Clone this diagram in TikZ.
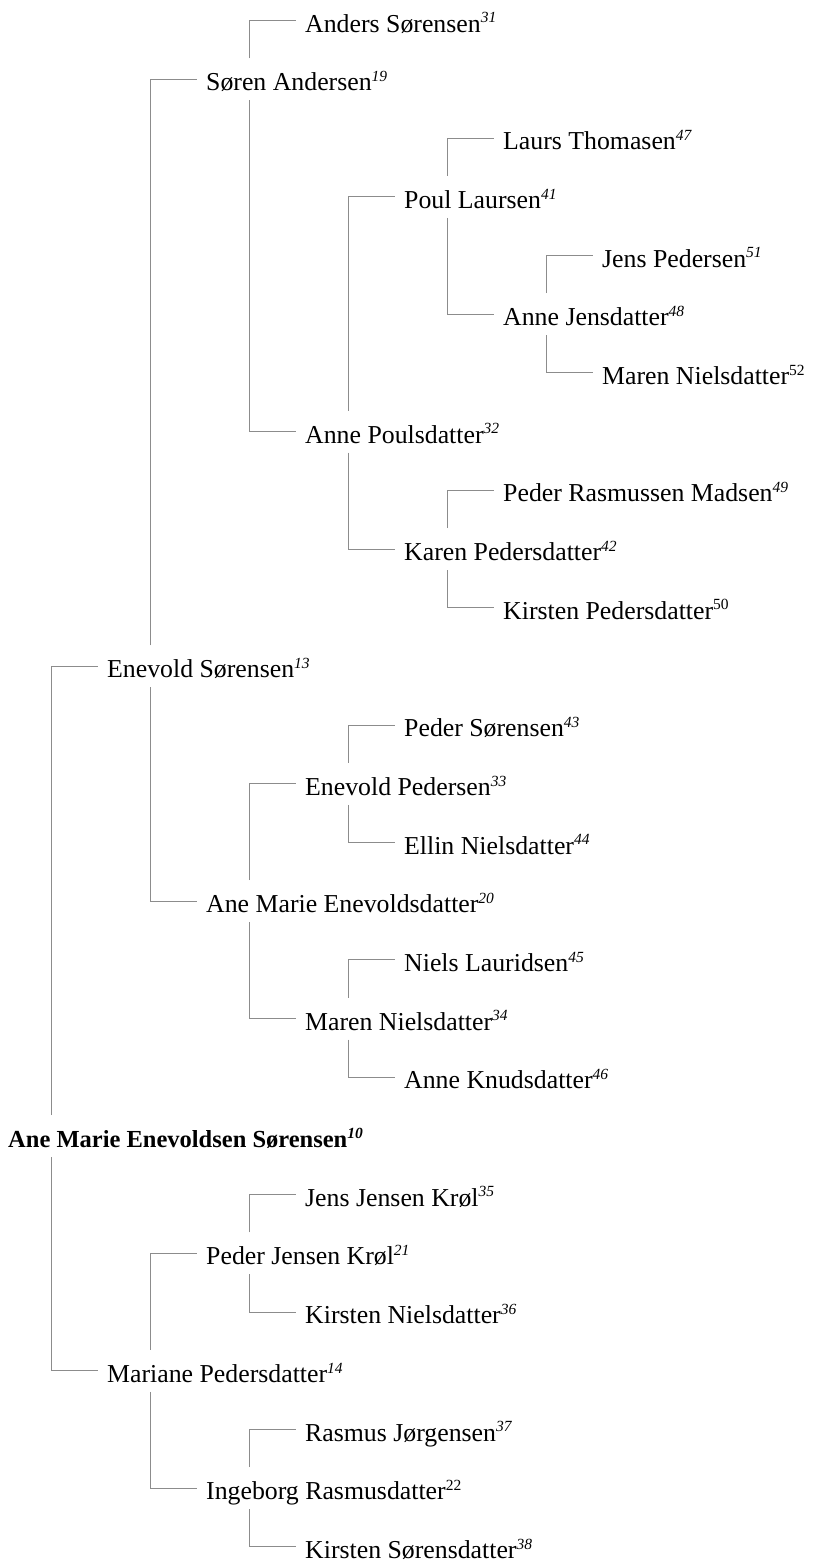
\documentclass[tikz,border=0pt]{standalone}
\usepackage{fontspec}
\setmainfont{Liberation Serif}
\newcommand{\anum}[1]{\raisebox{0.36em}{\fontsize{15.5}{15.5}\selectfont\itshape #1}}
\newcommand{\unum}[1]{\raisebox{0.36em}{\fontsize{15.5}{15.5}\selectfont #1}}
\begin{document}
\begin{tikzpicture}[x=1pt,y=-1pt,
  person/.style={anchor=west,inner xsep=9pt,inner ysep=0pt,text height=23pt,text depth=0pt,
    font=\fontsize{25.8}{30}\selectfont},
  link/.style={draw=black!45,line width=1pt}]
\useasboundingbox (0,0) rectangle (815,1562);
\def\row#1{20.7+58.7*#1}
\def\lvl#1{-1+99*#1}
\node[person] (p31) at ({\lvl{3}},{\row{0}}) {Anders Sørensen\anum{31}};
\node[person] (p19) at ({\lvl{2}},{\row{1}}) {Søren Andersen\anum{19}};
\node[person] (p47) at ({\lvl{5}},{\row{2}}) {Laurs Thomasen\anum{47}};
\node[person] (p41) at ({\lvl{4}},{\row{3}}) {Poul Laursen\anum{41}};
\node[person] (p51) at ({\lvl{6}},{\row{4}}) {Jens Pedersen\anum{51}};
\node[person] (p48) at ({\lvl{5}},{\row{5}}) {Anne Jensdatter\anum{48}};
\node[person] (p52) at ({\lvl{6}},{\row{6}}) {Maren Nielsdatter\unum{52}};
\node[person] (p32) at ({\lvl{3}},{\row{7}}) {Anne Poulsdatter\anum{32}};
\node[person] (p49) at ({\lvl{5}},{\row{8}}) {Peder Rasmussen Madsen\anum{49}};
\node[person] (p42) at ({\lvl{4}},{\row{9}}) {Karen Pedersdatter\anum{42}};
\node[person] (p50) at ({\lvl{5}},{\row{10}}) {Kirsten Pedersdatter\unum{50}};
\node[person] (p13) at ({\lvl{1}},{\row{11}}) {Enevold Sørensen\anum{13}};
\node[person] (p43) at ({\lvl{4}},{\row{12}}) {Peder Sørensen\anum{43}};
\node[person] (p33) at ({\lvl{3}},{\row{13}}) {Enevold Pedersen\anum{33}};
\node[person] (p44) at ({\lvl{4}},{\row{14}}) {Ellin Nielsdatter\anum{44}};
\node[person] (p20) at ({\lvl{2}},{\row{15}}) {Ane Marie Enevoldsdatter\anum{20}};
\node[person] (p45) at ({\lvl{4}},{\row{16}}) {Niels Lauridsen\anum{45}};
\node[person] (p34) at ({\lvl{3}},{\row{17}}) {Maren Nielsdatter\anum{34}};
\node[person] (p46) at ({\lvl{4}},{\row{18}}) {Anne Knudsdatter\anum{46}};
\node[person,font=\fontsize{24.5}{30}\selectfont\bfseries] (p10) at ({\lvl{0}},{\row{19}}) {Ane Marie Enevoldsen Sørensen\anum{10}};
\node[person] (p35) at ({\lvl{3}},{\row{20}}) {Jens Jensen Krøl\anum{35}};
\node[person] (p21) at ({\lvl{2}},{\row{21}}) {Peder Jensen Krøl\anum{21}};
\node[person] (p36) at ({\lvl{3}},{\row{22}}) {Kirsten Nielsdatter\anum{36}};
\node[person] (p14) at ({\lvl{1}},{\row{23}}) {Mariane Pedersdatter\anum{14}};
\node[person] (p37) at ({\lvl{3}},{\row{24}}) {Rasmus Jørgensen\anum{37}};
\node[person] (p22) at ({\lvl{2}},{\row{25}}) {Ingeborg Rasmusdatter\unum{22}};
\node[person] (p38) at ({\lvl{3}},{\row{26}}) {Kirsten Sørensdatter\anum{38}};
% connectors: parent -> father (above), mother (below)
\foreach \p/\f/\m in {p19/p31/p32, p41/p47/p48, p48/p51/p52, p32/p41/p42, p42/p49/p50,
  p13/p19/p20, p33/p43/p44, p20/p33/p34, p34/p45/p46, p10/p13/p14, p21/p35/p36,
  p14/p21/p22, p22/p37/p38}{
  \draw[link] ([shift={(52,-21)}]\p.west) |- (\f.west);
  \draw[link] ([shift={(52,21)}]\p.west) |- (\m.west);
}
\end{tikzpicture}
\end{document}
